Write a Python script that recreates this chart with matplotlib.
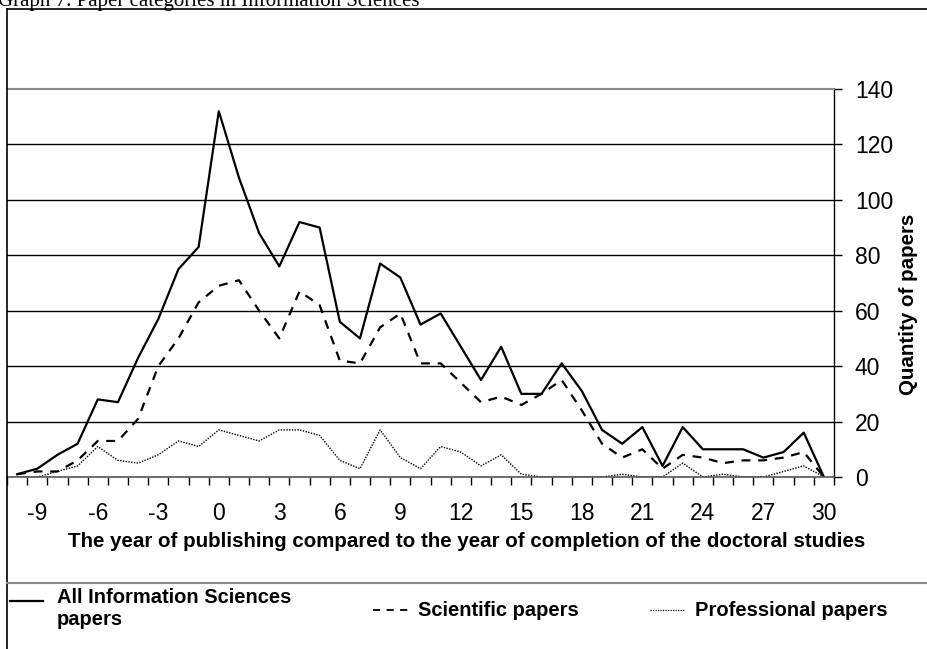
import numpy as np
import matplotlib
matplotlib.use("Agg")
import matplotlib.pyplot as plt
from matplotlib.lines import Line2D

# anios respecto al fin del doctorado
anios = np.arange(-10, 31)

# cantidad de trabajos
todos = [1, 3, 8, 12, 28, 27, 43, 57, 75, 83, 132, 108, 88, 76, 92, 90, 56, 50, 77, 72,
         55, 59, 47, 35, 47, 30, 30, 41, 31, 17, 12, 18, 4, 18, 10, 10, 10, 7, 9, 16, 0]
cientificos = [1, 2, 2, 6, 13, 13, 21, 40, 50, 63, 69, 71, 60, 50, 67, 62, 42, 41, 54, 59,
               41, 41, 34, 27, 29, 26, 30, 35, 24, 12, 7, 10, 3, 8, 7, 5, 6, 6, 7, 9, 0]
profesionales = [0, 0, 2, 4, 11, 6, 5, 8, 13, 11, 17, 15, 13, 17, 17, 15, 6, 3, 17, 7,
                 3, 11, 9, 4, 8, 1, 0, 0, 0, 0, 1, 0, 0, 5, 0, 1, 0, 0, 2, 4, 0]

etiquetas_x = np.arange(-9, 31, 3)
etiquetas_y = np.arange(0, 141, 20)

W, H = 927, 649
fig = plt.figure(figsize=(W/100, H/100), dpi=100)
plt.rcParams['font.family'] = ['Liberation Sans', 'DejaVu Sans']

def fx(px):
    return px / W

def fy(py):
    return 1 - py / H

x0, x1, ytop, ybot = 7, 834, 89, 477
ax = fig.add_axes([fx(x0), fy(ybot), (x1 - x0)/W, (ybot - ytop)/H])

ax.plot(anios, todos, color='black', lw=1.6, ls='-')
ax.plot(anios, cientificos, color='black', lw=1.6, ls=(0, (4, 3.5)))
ax.plot(anios, profesionales, color='black', lw=1.0, ls=(0, (1, 1)))

ax.set_xlim(-10.5, 30.5)
ax.set_ylim(0, 140)

# grilla horizontal
for v in etiquetas_y[1:-1]:
    ax.axhline(v, color='black', lw=1.0, zorder=0)

ax.spines['left'].set_visible(False)
ax.spines['top'].set_color('#888888')
ax.spines['top'].set_linewidth(1.5)
ax.spines['bottom'].set_color('#555555')
ax.spines['bottom'].set_linewidth(1.2)
ax.spines['right'].set_color('black')
ax.spines['right'].set_linewidth(1.0)

ax.yaxis.tick_right()
ax.set_yticks(etiquetas_y)
ax.tick_params(axis='y', direction='out', length=6, width=1, pad=9, labelsize=16.5)

ax.set_xticks(np.arange(-10.5, 31, 1))
ax.set_xticklabels([])
ax.set_xticks(etiquetas_x, minor=True)
ax.set_xticklabels([str(v) for v in etiquetas_x], minor=True)
ax.tick_params(axis='x', which='major', direction='out', length=6, width=1)
ax.tick_params(axis='x', which='minor', length=0, pad=18, labelsize=16.5)

# textos
fig.text(fx(467), fy(547), 'The year of publishing compared to the year of completion of the doctoral studies',
         ha='center', va='baseline', fontsize=14.8, fontweight='bold')
fig.text(fx(908), fy(304), 'Quantity of papers', rotation=90,
         ha='center', va='center', fontsize=14.8, fontweight='bold')
fig.text(fx(-2), fy(6), 'Graph 7. Paper categories in Information Sciences',
         ha='left', va='baseline', fontsize=15, family=['Liberation Serif', 'DejaVu Serif'])

# marco exterior y separador
fig.add_artist(Line2D([fx(7), 1], [fy(9), fy(9)], color='black', lw=1.2))
fig.add_artist(Line2D([fx(7), fx(7)], [fy(9), 0], color='black', lw=1.2))
fig.add_artist(Line2D([fx(7), 1], [fy(583), fy(583)], color='#888888', lw=1.5))

# leyenda
fig.add_artist(Line2D([fx(10), fx(43)], [fy(601), fy(601)], color='black', lw=1.6))
fig.text(fx(57), fy(603), 'All Information Sciences', ha='left', va='baseline',
         fontsize=14.5, fontweight='bold')
fig.text(fx(57), fy(625), 'papers', ha='left', va='baseline',
         fontsize=14.5, fontweight='bold')
fig.add_artist(Line2D([fx(373), fx(412)], [fy(610), fy(610)], color='black', lw=1.3, ls=(0, (4, 3.5))))
fig.text(fx(418), fy(616), 'Scientific papers', ha='left', va='baseline',
         fontsize=14.5, fontweight='bold')
fig.add_artist(Line2D([fx(650), fx(684)], [fy(610), fy(610)], color='black', lw=0.9, ls=(0, (1, 1))))
fig.text(fx(695), fy(616), 'Professional papers', ha='left', va='baseline',
         fontsize=14.5, fontweight='bold')

plt.savefig('out.png', dpi=100)
